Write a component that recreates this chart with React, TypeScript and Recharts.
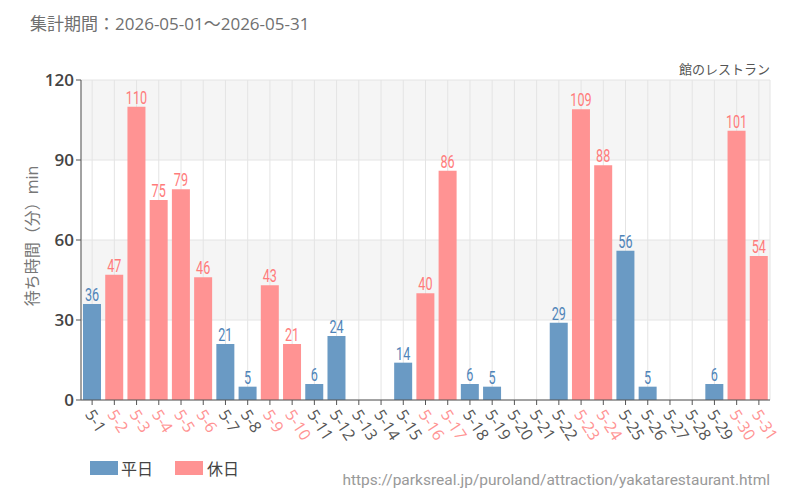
import React from 'react';
import {
  BarChart,
  Bar,
  XAxis,
  YAxis,
  CartesianGrid,
  LabelList,
} from 'recharts';

const days: string[] = [
  '5-1', '5-2', '5-3', '5-4', '5-5', '5-6', '5-7', '5-8', '5-9', '5-10',
  '5-11', '5-12', '5-13', '5-14', '5-15', '5-16', '5-17', '5-18', '5-19', '5-20',
  '5-21', '5-22', '5-23', '5-24', '5-25', '5-26', '5-27', '5-28', '5-29', '5-30', '5-31',
];

const waitMinutes: (number | null)[] = [
  36, 47, 110, 75, 79, 46, 21, 5, 43, 21,
  6, 24, null, null, 14, 40, 86, 6, 5, null,
  null, 29, 109, 88, 56, 5, null, null, 6, 101, 54,
];

// true = holiday (休日)
const holidays: boolean[] = [
  false, true, true, true, true, true, false, false, true, true,
  false, false, false, false, false, true, true, false, false, false,
  false, false, true, true, false, false, false, false, false, true, true,
];

const yTicks = [0, 30, 60, 90, 120];

const BLUE = '#6a9ac4';
const PINK = '#ff9393';
const BLUE_TEXT = '#4f84b8';
const PINK_TEXT = '#ff7b7b';

// split into weekday / holiday series so each gets its own colour
const data = days.map((d, i) => ({
  day: d,
  weekday: holidays[i] ? null : waitMinutes[i],
  holiday: holidays[i] ? waitMinutes[i] : null,
}));

const jpFont = '"Open Sans", "Noto Sans CJK JP", sans-serif';

const XTick = (props: any) => {
  const { x, y, payload, index } = props;
  const hol = holidays[index];
  return (
    <text
      x={0}
      y={0}
      transform={`translate(${x - 4},${y + 5}) rotate(57)`}
      textAnchor="start"
      dominantBaseline="middle"
      fontSize={16}
      fontFamily={jpFont}
      fill={hol ? PINK : '#555'}
    >
      {payload.value}
    </text>
  );
};

const makeLabel = (color: string) => (props: any) => {
  const { x, y, width, value } = props;
  if (value == null) return null;
  return (
    <text
      transform={`translate(${x + width / 2},${y - 3}) scale(0.7,1)`}
      textAnchor="middle"
      fontSize={18}
      fontFamily="Roboto, sans-serif"
      fill={color}
    >
      {value}
    </text>
  );
};

const WeekdayLabel = makeLabel(BLUE_TEXT);
const HolidayLabel = makeLabel(PINK_TEXT);

export default function App() {
  return (
    <div style={{ position: 'absolute', left: 0, top: 0, width: 800, height: 500, background: '#fff', fontFamily: jpFont }}>
      <div style={{ position: 'absolute', left: 30, top: 10, fontSize: 17, color: '#707070' }}>
        集計期間：2026-05-01～2026-05-31
      </div>
      <div style={{ position: 'absolute', right: 30, top: 59, fontSize: 13, color: '#555' }}>
        館のレストラン
      </div>
      <div
        style={{
          position: 'absolute',
          left: 31,
          top: 236,
          transform: 'translate(-50%, -50%) rotate(-90deg)',
          fontSize: 16,
          color: '#777',
          whiteSpace: 'nowrap',
        }}
      >
        待ち時間（分）min
      </div>
      <BarChart
        width={800}
        height={500}
        data={data}
        margin={{ top: 80, right: 30, left: 31, bottom: 50 }}
        barSize={18}
      >
        <CartesianGrid
          stroke="#e4e4e4"
          horizontalFill={['#f5f5f5', '#ffffff']}
          fillOpacity={1}
        />
        <XAxis
          dataKey="day"
          interval={0}
          height={50}
          stroke="#555"
          tickSize={5}
          tick={<XTick />}
        />
        <YAxis
          domain={[0, 120]}
          ticks={yTicks}
          width={50}
          stroke="#555"
          tickSize={5}
          tick={{ fontSize: 17, fill: '#444', fontWeight: 600, fontFamily: jpFont }}
        />
        <Bar dataKey="weekday" stackId="a" fill={BLUE} isAnimationActive={false}>
          <LabelList dataKey="weekday" content={<WeekdayLabel />} />
        </Bar>
        <Bar dataKey="holiday" stackId="a" fill={PINK} isAnimationActive={false}>
          <LabelList dataKey="holiday" content={<HolidayLabel />} />
        </Bar>
      </BarChart>
      <div style={{ position: 'absolute', left: 90, top: 456, display: 'flex', alignItems: 'center', fontSize: 16, color: '#444' }}>
        <span style={{ display: 'inline-block', width: 28, height: 14, background: BLUE, marginRight: 3 }} />
        <span style={{ marginRight: 22 }}>平日</span>
        <span style={{ display: 'inline-block', width: 28, height: 14, background: PINK, marginRight: 4 }} />
        <span>休日</span>
      </div>
      <div style={{ position: 'absolute', right: 30, top: 471, fontSize: 15.5, color: '#999', fontFamily: 'Roboto, sans-serif' }}>
        https://parksreal.jp/puroland/attraction/yakatarestaurant.html
      </div>
    </div>
  );
}
